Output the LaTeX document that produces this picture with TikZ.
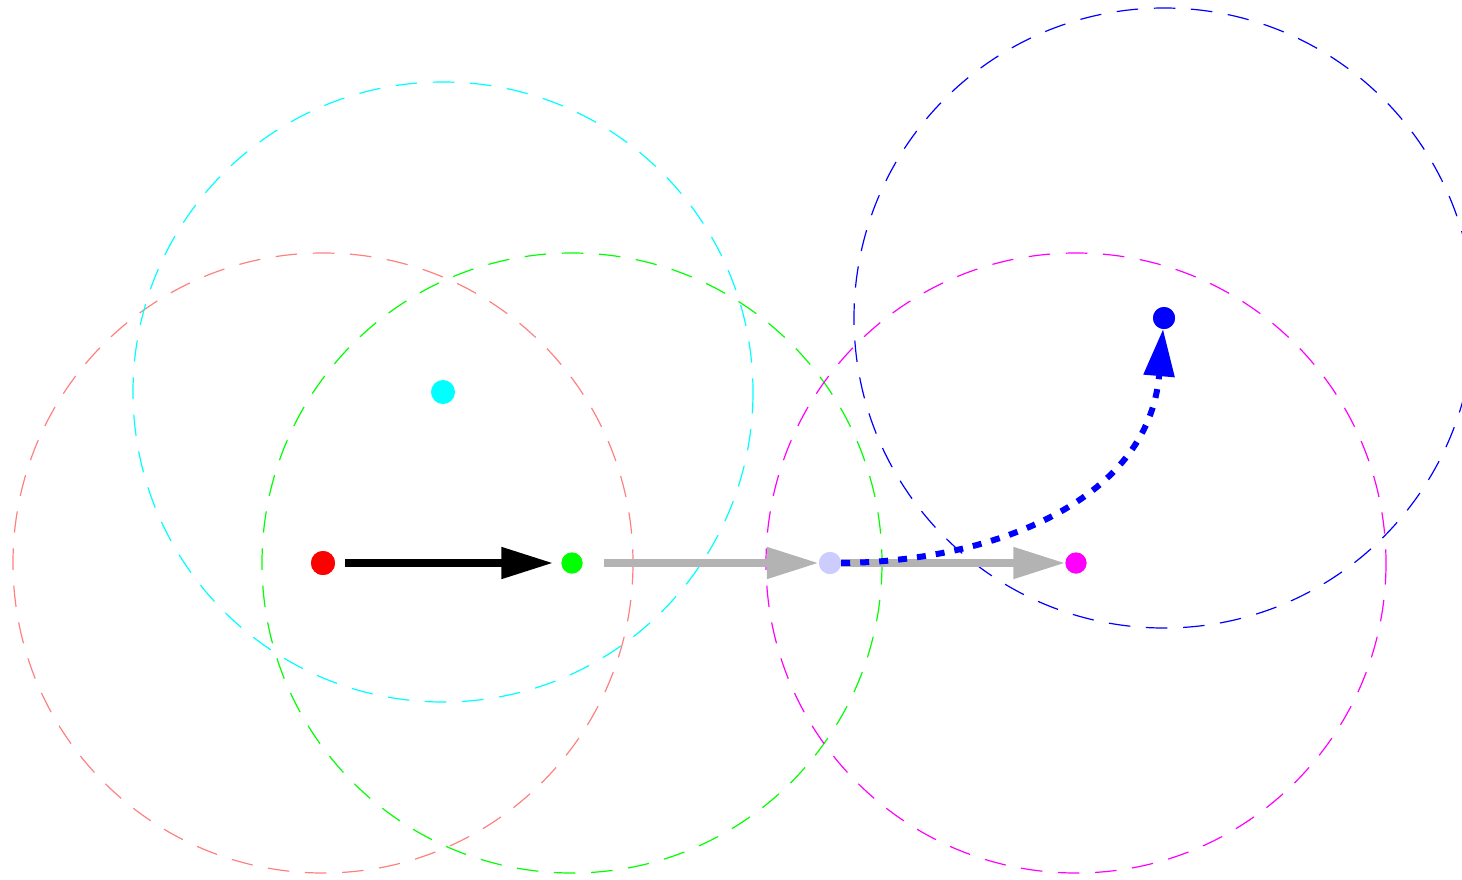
\documentclass[tikz,border=0pt]{standalone}
\usetikzlibrary{arrows.meta}
\definecolor{salmon}{RGB}{255,128,128}
\definecolor{lav}{RGB}{204,204,255}
\definecolor{grayarrow}{RGB}{179,179,179}
\definecolor{cyanx}{RGB}{0,255,255}
\definecolor{magentax}{RGB}{255,0,255}
\definecolor{greenx}{RGB}{0,255,0}
\definecolor{bluex}{RGB}{0,0,255}
\definecolor{redx}{RGB}{255,0,0}
\tikzset{
  ring/.style={line width=1.2pt, dash pattern=on 21.5pt off 15.7pt},
  dot/.style={circle, inner sep=0pt, minimum size=#1, draw=none},
  fatarrow/.style={line width=8pt, -{Triangle[length=52pt,width=30pt]}},
}
\begin{document}
\begin{tikzpicture}[x=1pt,y=-1pt]
\path[use as bounding box, clip] (0,0) rectangle (1462,879);
% dots (positions)
\node[dot=24pt, fill=redx] (r) at (323,563) {};
\node[dot=21pt, fill=greenx] (g) at (572,563) {};
\node[dot=24pt, fill=cyanx] (c) at (443,392) {};
\node[dot=22pt, fill=lav] (l) at (830,563) {};
\node[dot=21pt, fill=magentax] (m) at (1076,563) {};
\node[dot=22pt, fill=bluex] (b) at (1164,318) {};
% circles
\draw[ring, salmon] (r.center) circle[radius=310];
\draw[ring, greenx] (g.center) circle[radius=310];
\draw[ring, cyanx] (c.center) circle[radius=310];
\draw[ring, magentax] (m.center) circle[radius=310];
\draw[ring, bluex] (b.center) circle[radius=310];
% arrows
\draw[fatarrow, black, shorten <=10pt, shorten >=8pt] (r) -- (g);
\draw[fatarrow, grayarrow, shorten <=21pt] (g) -- (l);
\draw[fatarrow, grayarrow] (l) -- (m);
\draw[bluex, line width=6pt, dash pattern=on 9pt off 10pt, -{Triangle[length=47pt,width=30pt]}]
  (l) .. controls (985,562) and (1148,505) .. (b);
% redraw dots on top
\node[dot=24pt, fill=redx] at (r) {};
\node[dot=21pt, fill=greenx] at (g) {};
\node[dot=22pt, fill=lav] at (l) {};
\node[dot=21pt, fill=magentax] at (m) {};
\node[dot=22pt, fill=bluex] at (b) {};
\end{tikzpicture}
\end{document}
